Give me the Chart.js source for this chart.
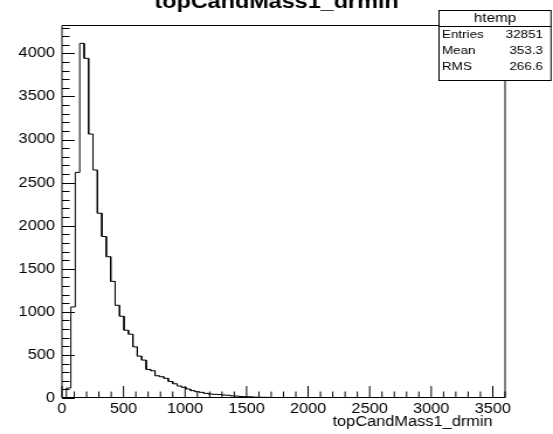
<!DOCTYPE html>
<html><head><meta charset="utf-8">
<script src="https://cdn.jsdelivr.net/npm/chart.js@4"></script>
<style>
html,body{margin:0;padding:0;background:#fff;overflow:hidden;}
#wrap{width:473px;height:434px;transform:scaleX(1.16913);transform-origin:0 0;}
canvas{display:block;}
</style></head><body>
<div id="wrap"><canvas id="c" width="473" height="434"></canvas></div>
<script>
// ---- data ----
const histName = 'htemp';
const chartTitle = 'topCandMass1_drmin';
const xAxisTitle = 'topCandMass1_drmin';
const xMin = 0, xMax = 3600, binWidth = 36;
const yMax = 4330;
const xTickValues = [0, 500, 1000, 1500, 2000, 2500, 3000, 3500];
const yTickValues = [0, 500, 1000, 1500, 2000, 2500, 3000, 3500, 4000];
const majorStep = 500, minorStep = 100;
const counts = [
  0, 116, 1057, 2619, 4117, 3943, 3064, 2647, 2145, 1875,
  1640, 1354, 1076, 949, 787, 741, 594, 486, 440, 332,
  316, 258, 247, 228, 192, 165, 139, 124, 104, 85,
  73, 66, 54, 46, 43, 40, 35, 32, 25, 22,
  17, 15, 14, 10, 9, 8, 7, 6, 6, 5,
  5, 4, 4, 4, 3, 3, 3, 2, 2, 2,
  2, 1, 1, 1, 0, 0, 0, 0, 0, 0,
  0, 0, 0, 0, 0, 0, 0, 0, 0, 0,
  0, 0, 0, 0, 0, 0, 0, 0, 0, 0,
  0, 0, 0, 0, 0, 0, 0, 0, 0, 0
];
const statsLabels = ['Entries', 'Mean', 'RMS'];
const statsValues = ['32851', '353.3', '266.6'];

// ---- build histogram outline from bins ----
const pts = [{x: xMin, y: 0}];
counts.forEach((c, i) => {
  const lo = xMin + i * binWidth;
  pts.push({x: lo, y: c}, {x: lo + binWidth, y: c});
});
pts.push({x: xMax, y: 0});

const FONT = '"Liberation Sans", Arial, Helvetica, sans-serif';

const rootDecor = {
  id: 'rootDecor',
  afterDraw(chart) {
    const ctx = chart.ctx, ca = chart.chartArea;
    const xs = chart.scales.x, ys = chart.scales.y;
    ctx.save();
    ctx.strokeStyle = '#000';
    ctx.lineWidth = 1;
    // frame
    const top = Math.round(ca.top) + 0.5, bot = Math.round(ca.bottom) - 0.5;
    ctx.beginPath();
    ctx.moveTo(ca.left, top); ctx.lineTo(ca.right, top);
    ctx.lineTo(ca.right, bot); ctx.lineTo(ca.left, bot); ctx.closePath();
    ctx.stroke();
    // y ticks (inside)
    ctx.beginPath();
    for (let v = 0; v <= yMax; v += minorStep) {
      const py = Math.round(ys.getPixelForValue(v)) + 0.5;
      const len = (v % majorStep === 0) ? 11 : 6.5;
      ctx.moveTo(ca.left, py); ctx.lineTo(ca.left + len, py);
    }
    // x ticks (inside)
    for (let v = xMin; v <= xMax; v += minorStep) {
      const px = xs.getPixelForValue(v);
      const len = (v % majorStep === 0) ? 11.5 : 6;
      ctx.moveTo(px, bot); ctx.lineTo(px, bot - len);
    }
    ctx.stroke();
    // title (partly above the canvas)
    ctx.fillStyle = '#000';
    ctx.font = 'bold 20px ' + FONT;
    ctx.textAlign = 'center';
    ctx.textBaseline = 'alphabetic';
    ctx.fillText(chartTitle, chart.width / 2, 8);
    // x axis title
    ctx.font = '14px ' + FONT;
    ctx.textAlign = 'right';
    ctx.fillText(xAxisTitle, 421.4, 426);
    // stats box
    const bx = 375.5, by = 10.5, bw = 95.8, bh = 70;
    ctx.fillStyle = '#fff';
    ctx.fillRect(bx, by, bw, bh);
    ctx.strokeRect(bx, by, bw, bh);
    ctx.beginPath(); ctx.moveTo(bx, 26.5); ctx.lineTo(bx + bw, 26.5); ctx.stroke();
    ctx.fillStyle = '#000';
    ctx.font = '13px ' + FONT;
    ctx.textAlign = 'center';
    ctx.fillText(histName, bx + bw / 2, 22);
    ctx.font = '11.5px ' + FONT;
    const rowY = [38, 54, 70];
    statsLabels.forEach((l, i) => {
      ctx.textAlign = 'left';
      ctx.fillText(l, bx + 2.5, rowY[i]);
      ctx.textAlign = 'right';
      ctx.fillText(statsValues[i], 464.5, rowY[i]);
    });
    ctx.restore();
  }
};

new Chart(document.getElementById('c'), {
  type: 'line',
  data: {
    datasets: [{
      data: pts,
      borderColor: '#000',
      borderWidth: 1,
      pointRadius: 0,
      fill: false,
      tension: 0
    }]
  },
  options: {
    responsive: false,
    animation: false,
    devicePixelRatio: 1,
    layout: {padding: {top: 25, right: 41, bottom: 0, left: 0}},
    plugins: {legend: {display: false}, title: {display: false}, tooltip: {enabled: false}},
    scales: {
      x: {
        type: 'linear', min: xMin, max: xMax,
        grid: {display: false, drawTicks: false},
        border: {display: false},
        afterBuildTicks(s) { s.ticks = xTickValues.map(v => ({value: v})); },
        ticks: {color: '#000', callback: v => String(v),
                font: {family: FONT, size: 14}, padding: 3, maxRotation: 0, autoSkip: false},
        afterFit(s) { s.height = 36; }
      },
      y: {
        type: 'linear', min: 0, max: yMax,
        grid: {display: false, drawTicks: false},
        border: {display: false},
        afterBuildTicks(s) { s.ticks = yTickValues.map(v => ({value: v})); },
        ticks: {color: '#000', callback: v => String(v), autoSkip: false,
                font: {family: FONT, size: 14}, padding: 6},
        afterFit(s) { s.width = 53; }
      }
    }
  },
  plugins: [rootDecor]
});
</script>
</body></html>
